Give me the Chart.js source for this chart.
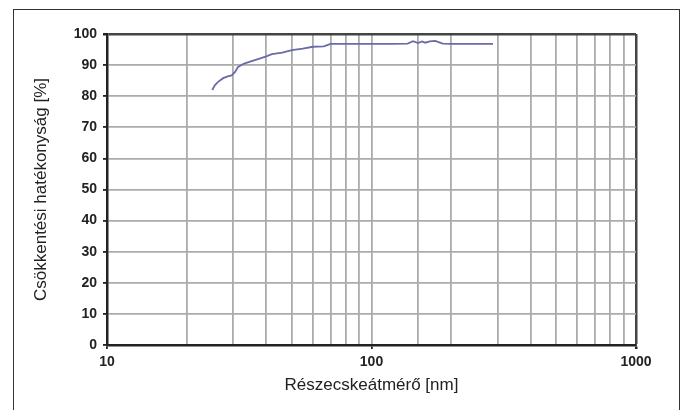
<!DOCTYPE html>
<html>
<head>
<meta charset="utf-8">
<script src="https://cdn.jsdelivr.net/npm/chart.js@4"></script>
<style>
    html, body { margin: 0; padding: 0; background: #fff; }
    #wrap { position: relative; width: 684px; height: 410px; overflow: hidden; }
    #frame {
        position: absolute; left: 13px; top: 9px; width: 665px; height: 420px;
        border: 1.5px solid #333; border-bottom: none; pointer-events: none;
    }
</style>
</head>
<body>
<div id="wrap">
    <canvas id="chart" width="684" height="410"></canvas>
    <div id="frame"></div>
</div>
<script>
// particle diameter [nm]
const diameters = [25, 25.6, 26.3, 27.5, 28.6, 29.6, 30.5, 31.3, 33, 35, 37.5, 40, 42, 46, 50, 55, 60, 66, 70, 80, 100, 120, 137, 143.5, 150, 155, 159.5, 166, 174, 186, 200, 250, 288];
// reduction efficiency [%]
const efficiency = [82, 83.6, 84.6, 85.8, 86.4, 86.7, 87.8, 89.4, 90.5, 91.2, 92.0, 92.8, 93.5, 94.0, 94.8, 95.3, 95.9, 96.0, 96.8, 96.8, 96.8, 96.8, 96.9, 97.7, 97.1, 97.6, 97.2, 97.6, 97.8, 96.9, 96.8, 96.8, 96.8];

const yTicks = [0, 10, 20, 30, 40, 50, 60, 70, 80, 90, 100];
const xLabels = [10, 100, 1000];

const isDecade = (v) => xLabels.includes(Math.round(v));

new Chart(
    document.getElementById('chart'),
    {
    type: 'line',
    data: {
        datasets: [
            {
                label: 'Csökkentési hatékonyság',
                data: diameters.map((d, i) => ({ x: d, y: efficiency[i] })),
                borderColor: '#6b6aa8',
                borderWidth: 1.8,
                pointRadius: 0,
                tension: 0,
                fill: false
            }
        ]
    },
    options: {
        responsive: false,
        animation: false,
        layout: {
            padding: { left: 0, top: 34, right: 48, bottom: 10 }
        },
        scales: {
            x: {
                type: 'logarithmic',
                min: 10,
                max: 1000,
                afterFit: (scale) => { scale.height = 55; },
                border: { color: '#222', width: 2.5 },
                grid: {
                    color: (ctx) => ctx.tick && Math.round(ctx.tick.value) === 1000 ? '#444' : '#ababab',
                    lineWidth: (ctx) => ctx.tick && Math.round(ctx.tick.value) === 1000 ? 2.5 : 1.8,
                    tickColor: (ctx) => ctx.tick && isDecade(ctx.tick.value) ? '#222' : 'rgba(0,0,0,0)',
                    tickLength: 4
                },
                ticks: {
                    autoSkip: false,
                    maxRotation: 0,
                    padding: 5,
                    color: '#222',
                    font: { family: 'Liberation Sans', size: 14, weight: 'bold' },
                    callback: (value) => isDecade(value) ? String(Math.round(value)) : ''
                },
                title: {
                    display: true,
                    text: 'Részecskeátmérő [nm]',
                    color: '#222',
                    padding: { top: 0, bottom: 4 },
                    font: { family: 'Liberation Sans', size: 17 }
                }
            },
            y: {
                min: 0,
                max: 100,
                afterFit: (scale) => { scale.width = 107; },
                afterBuildTicks: (scale) => { scale.ticks = yTicks.map(v => ({ value: v })); },
                border: { color: '#222', width: 2.5 },
                grid: {
                    color: (ctx) => ctx.tick && ctx.tick.value === 100 ? '#444' : '#ababab',
                    lineWidth: (ctx) => ctx.tick && ctx.tick.value === 100 ? 2.5 : 1.8,
                    tickColor: '#222',
                    tickLength: 4
                },
                ticks: {
                    padding: 6,
                    color: '#222',
                    font: { family: 'Liberation Sans', size: 14, weight: 'bold' }
                },
                title: {
                    display: true,
                    text: 'Csökkentési hatékonyság [%]',
                    color: '#222',
                    padding: { top: 31, bottom: 0 },
                    font: { family: 'Liberation Sans', size: 17 }
                }
            }
        },
        plugins: {
            legend: { display: false },
            tooltip: { enabled: false }
        }
    }
});
</script>
</body>
</html>
